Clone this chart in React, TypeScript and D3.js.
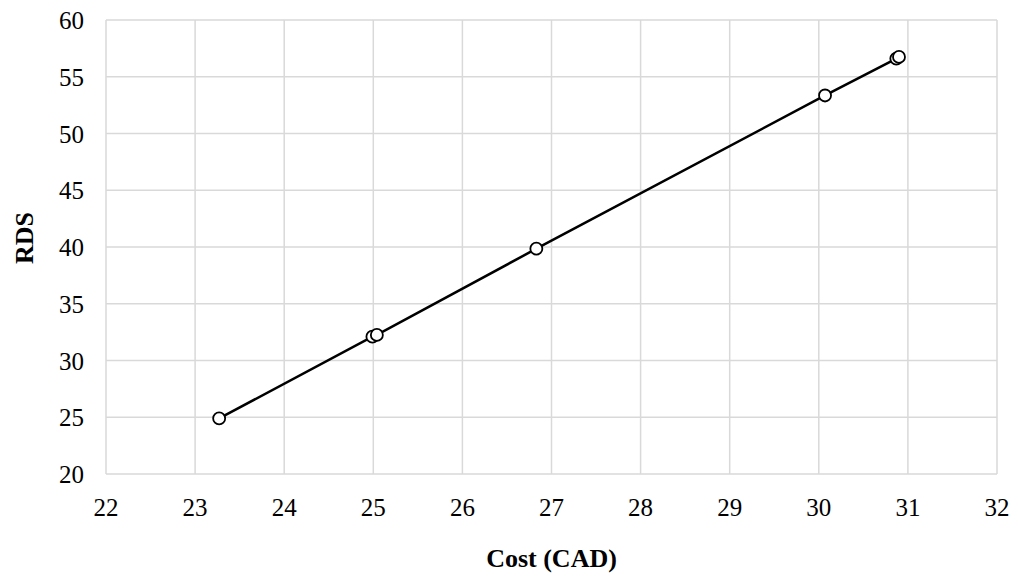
import React from "react";
import * as d3 from "d3";

const costValues = [23.27, 24.99, 25.04, 26.83, 30.07, 30.87, 30.9];
const rdsValues = [24.9, 32.1, 32.25, 39.85, 53.35, 56.6, 56.75];
const xTicks = [22, 23, 24, 25, 26, 27, 28, 29, 30, 31, 32];
const yTicks = [20, 25, 30, 35, 40, 45, 50, 55, 60];

const W = 1018;
const H = 579;
const left = 106;
const right = 997;
const top = 20;
const bottom = 474;

export default function App() {
  const x = d3.scaleLinear().domain([22, 32]).range([left, right]);
  const y = d3.scaleLinear().domain([20, 60]).range([bottom, top]);
  const pts = costValues.map((c, i) => [c, rdsValues[i]] as [number, number]);
  const line = d3
    .line<[number, number]>()
    .x((d) => x(d[0]))
    .y((d) => y(d[1]));
  const font = "'Liberation Serif', 'Times New Roman', serif";
  return (
    <svg
      width={W}
      height={H}
      style={{ position: "absolute", left: 0, top: 0, background: "#fff" }}
      fontFamily={font}
    >
      {xTicks.map((t) => (
        <line key={"gx" + t} x1={x(t)} x2={x(t)} y1={top} y2={bottom} stroke="#d9d9d9" strokeWidth={1.5} />
      ))}
      {yTicks.map((t) => (
        <line key={"gy" + t} x1={left} x2={right} y1={y(t)} y2={y(t)} stroke="#d9d9d9" strokeWidth={1.5} />
      ))}
      {xTicks.map((t) => (
        <text key={"tx" + t} x={x(t)} y={bottom + 42} textAnchor="middle" fontSize={25} fill="#000">
          {t}
        </text>
      ))}
      {yTicks.map((t) => (
        <text key={"ty" + t} x={left - 22} y={y(t) + 9} textAnchor="end" fontSize={25} fill="#000">
          {t}
        </text>
      ))}
      <path d={line(pts) || ""} fill="none" stroke="#000" strokeWidth={2.5} />
      {pts.map((p, i) => (
        <circle key={"p" + i} cx={x(p[0])} cy={y(p[1])} r={6} fill="#fff" stroke="#000" strokeWidth={1.8} />
      ))}
      <text x={(left + right) / 2} y={567} textAnchor="middle" fontSize={26} fontWeight="bold" fill="#000">
        Cost (CAD)
      </text>
      <text
        transform={`translate(33, 238) rotate(-90)`}
        textAnchor="middle"
        fontSize={26}
        fontWeight="bold"
        fill="#000"
      >
        RDS
      </text>
    </svg>
  );
}
